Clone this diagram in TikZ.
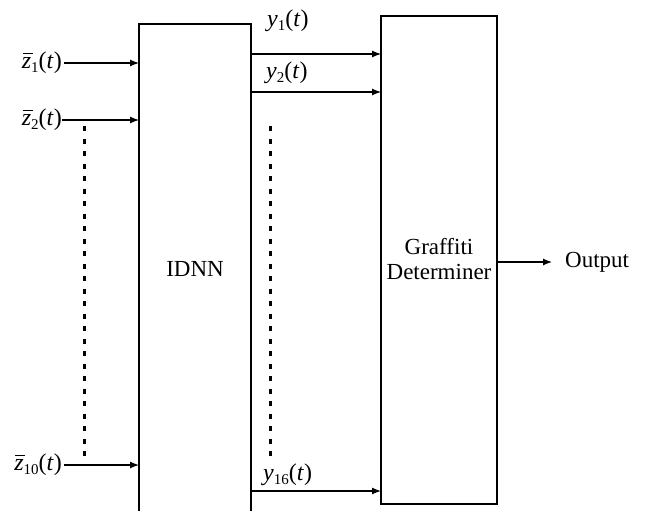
\documentclass[tikz,border=0pt]{standalone}
\usepackage{fontspec}
\setmainfont{Liberation Serif}
\usetikzlibrary{arrows.meta}
\newcommand{\sbs}[1]{\raisebox{-0.3ex}{\fontsize{15}{16}\selectfont #1}}
\newcommand{\zbar}{\leavevmode\rlap{\hspace{0.04em}\raisebox{0.62em}{\rule{0.42em}{0.05em}}}\textit{z}}
\begin{document}
\begin{tikzpicture}[x=1pt,y=-1pt,
  line/.style={draw=black,line width=1.2pt},
  arr/.style={line,-{Latex[length=9pt,width=7pt]}},
  dots/.style={draw=black,line width=3pt,dash pattern=on 5pt off 7.5pt},
  lbl/.style={font=\fontsize{24}{26}\selectfont,inner sep=0pt},
  boxtext/.style={font=\fontsize{23}{25}\selectfont,align=center,inner sep=0pt}]
\useasboundingbox (0,0) rectangle (652,511);
\fill[white] (0,0) rectangle (652,511);
% IDNN box (open at bottom)
\coordinate (ibl) at (139,511);
\coordinate (itl) at (139,24);
\coordinate (itr) at (251,24);
\coordinate (ibr) at (251,511);
\draw[line] (ibl) -- (itl) -- (itr) -- (ibr);
\node[boxtext] (idnn) at (195,269) {IDNN};
% Determiner box
\node[line,minimum width=116pt,minimum height=488pt,inner sep=0pt] (det) at (439,260) {};
\node[boxtext] (dett) at (439,259) {Graffiti\\Determiner};
% inputs
\node[lbl,anchor=east] (z1) at (62,63) {\zbar\sbs{1}(\textit{t})};
\node[lbl,anchor=east] (z2) at (62,120) {\zbar\sbs{2}(\textit{t})};
\node[lbl,anchor=east] (z10) at (62,465) {\zbar\sbs{10}(\textit{t})};
\coordinate (a1) at (139,63);
\coordinate (a2) at (139,120);
\coordinate (a10) at (139,465);
\draw[arr] (64,63) -- (a1);
\draw[arr] (62,120) -- (a2);
\draw[arr] (64,465) -- (a10);
\coordinate (d1s) at (84,126);
\coordinate (d1e) at (84,460);
\draw[dots] (d1s) -- (d1e);
% outputs of IDNN
\coordinate (o1) at (251,54);
\coordinate (o2) at (251,92);
\coordinate (o16) at (251,491);
\coordinate (e1) at (381,54);
\coordinate (e2) at (381,92);
\coordinate (e16) at (381,491);
\draw[arr] (o1) -- (e1);
\draw[arr] (o2) -- (e2);
\draw[arr] (o16) -- (e16);
\node[lbl,anchor=west] (y1) at (267,21) {\textit{y}\sbs{1}(\textit{t})};
\node[lbl,anchor=west] (y2) at (266,73) {\textit{y}\sbs{2}(\textit{t})};
\node[lbl,anchor=west] (y16) at (263,475) {\textit{y}\sbs{16}(\textit{t})};
\coordinate (d2s) at (270,126);
\coordinate (d2e) at (270,457);
\draw[dots] (d2s) -- (d2e);
% output
\node[boxtext,anchor=west] (out) at (565,262) {Output};
\draw[arr] (det.east |- out.west) -- (552,262);
\end{tikzpicture}
\end{document}
